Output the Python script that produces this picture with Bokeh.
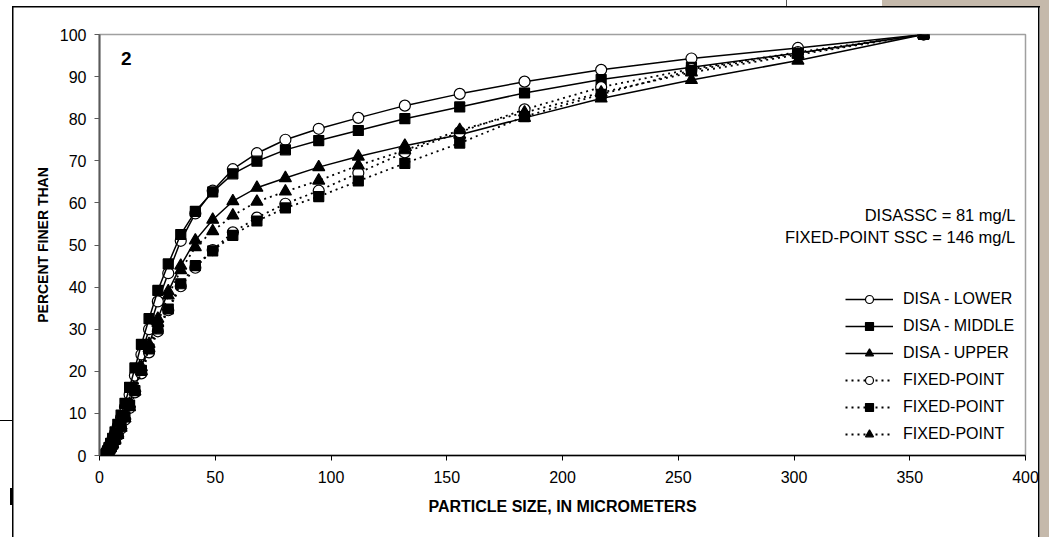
from bokeh.plotting import figure
from bokeh.models import Range1d, Legend, LegendItem, Label, FixedTicker, GlobalInlineStyleSheet
from bokeh.embed import file_html
from bokeh.resources import INLINE

# ---- data ----
sizes = [2.5, 2.93, 3.46, 4.08, 4.81, 5.68, 6.7, 7.91, 9.33, 11.0, 13.0, 15.3, 18.1, 21.4, 25.2,
         29.7, 35.1, 41.4, 48.9, 57.6, 68.0, 80.3, 94.7, 111.8, 131.9, 155.6, 183.6, 216.7,
         255.7, 301.7, 356.0]

disa_lower = [0.3, 0.8, 1.4, 2.1, 3.0, 4.0, 5.3, 7.0, 9.0, 11.5, 14.5, 19.0, 24.0, 30.0, 36.6,
              43.3, 51.0, 57.5, 62.9, 68.0, 71.8, 75.0, 77.6, 80.2, 83.1, 85.9, 88.8, 91.6,
              94.3, 96.8, 100.0]
disa_middle = [0.1, 0.5, 1.1, 1.9, 2.9, 4.1, 5.6, 7.4, 9.6, 12.4, 16.2, 20.8, 26.4, 32.5, 39.2,
               45.5, 52.5, 58.0, 62.6, 66.9, 69.9, 72.6, 74.8, 77.2, 80.0, 82.8, 86.1, 89.3,
               92.2, 95.6, 100.0]
disa_upper = [0.1, 0.3, 0.7, 1.2, 1.9, 2.8, 3.9, 5.3, 7.1, 9.4, 12.3, 16.0, 21.0, 26.5, 32.5,
              39.0, 45.1, 51.1, 56.0, 60.4, 63.6, 65.9, 68.5, 71.0, 73.6, 76.2, 80.2, 84.8,
              89.2, 93.8, 100.0]
fixed_circle = [0.1, 0.3, 0.6, 1.1, 1.7, 2.5, 3.5, 4.8, 6.4, 8.5, 11.3, 15.0, 19.5, 24.5, 29.5,
                34.5, 40.2, 44.6, 48.8, 53.0, 56.5, 59.8, 62.9, 67.1, 72.0, 76.8, 82.2, 87.5,
                91.8, 95.8, 100.0]
fixed_square = [0.1, 0.3, 0.7, 1.2, 1.9, 2.7, 3.8, 5.2, 7.0, 9.2, 12.0, 15.4, 20.2, 25.3, 30.1,
                34.8, 40.8, 45.1, 48.6, 52.3, 55.7, 58.8, 61.5, 65.2, 69.4, 74.2, 80.5, 85.8,
                91.5, 95.5, 100.0]
fixed_triangle = [0.2, 0.4, 0.7, 1.2, 1.8, 2.6, 3.6, 4.9, 6.6, 8.8, 11.5, 15.2, 20.0, 25.5, 31.5,
                  38.0, 44.0, 49.5, 53.3, 57.0, 60.3, 62.7, 65.3, 68.9, 72.5, 77.3, 81.5, 86.2,
                  91.0, 95.2, 100.0]

x_ticks = [0, 50, 100, 150, 200, 250, 300, 350, 400]
y_ticks = [0, 10, 20, 30, 40, 50, 60, 70, 80, 90, 100]
labels = ["DISA - LOWER", "DISA - MIDDLE", "DISA - UPPER", "FIXED-POINT", "FIXED-POINT", "FIXED-POINT"]
note_lines = ["DISASSC = 81 mg/L", "FIXED-POINT SSC = 146 mg/L"]
panel_label = "2"

FONT = "Liberation Sans"
TAN = "#c5b9ab"

# page surroundings of the scanned figure (outer frame, tan margin)
page_css = f"""
html, body {{ margin: 0; padding: 0; }}
body {{
  background:
    linear-gradient(#000,#000) 12px 6px / 1.5px 600px no-repeat,
    linear-gradient(#000,#000) 12px 6px / 1028px 1.5px no-repeat,
    linear-gradient(#000,#000) 1038px 6px / 1.5px 600px no-repeat,
    linear-gradient(#000,#000) 0px 420px / 12px 1px no-repeat,
    linear-gradient(#000,#000) 10px 488px / 2.5px 17px no-repeat,
    linear-gradient(#555,#555) 786px 0px / 1px 6px no-repeat,
    linear-gradient({TAN},{TAN}) 882px 0px / 167px 6px no-repeat,
    linear-gradient({TAN},{TAN}) 1040px 0px / 9px 600px no-repeat,
    #ffffff;
}}
"""

p = figure(width=1049, height=537, output_backend="svg", toolbar_location=None,
           x_range=Range1d(0, 400), y_range=Range1d(0, 100),
           min_border_left=99, min_border_right=24, min_border_top=34, min_border_bottom=82)
p.stylesheets = [GlobalInlineStyleSheet(css=page_css)]
p.background_fill_color = "white"
p.border_fill_alpha = 0
p.outline_line_color = "#a0a0a0"
p.outline_line_width = 1.5
p.xgrid.visible = False
p.ygrid.visible = False

for ax in (p.xaxis[0], p.yaxis[0]):
    ax.minor_tick_line_color = None
    ax.major_tick_in = 0
    ax.major_tick_out = 5
    ax.major_label_text_font = FONT
    ax.major_label_text_font_size = "16px"
    ax.major_label_text_color = "black"
    ax.axis_label_text_font = FONT
    ax.axis_label_text_font_style = "bold"
    ax.axis_label_text_color = "black"

p.xaxis.axis_label_text_font_size = "16px"
p.yaxis.axis_label_text_font_size = "14px"
p.xaxis.ticker = FixedTicker(ticks=x_ticks)
p.yaxis.ticker = FixedTicker(ticks=y_ticks)
p.xaxis.axis_label = "PARTICLE SIZE, IN MICROMETERS"
p.yaxis.axis_label = "PERCENT FINER THAN"
p.xaxis.axis_line_color = "black"
p.xaxis.axis_line_width = 1.5
p.xaxis.major_tick_line_color = "black"
p.yaxis.axis_line_color = "#5a5a5a"
p.yaxis.axis_line_width = 2
p.yaxis.major_tick_line_color = "#5a5a5a"
p.xaxis.major_label_standoff = 10
p.yaxis.major_label_standoff = 8
p.xaxis.axis_label_standoff = 12
p.yaxis.axis_label_standoff = 6

series = [
    (disa_lower, "circle", "white", 11, None),
    (disa_middle, "square", "black", 10, None),
    (disa_upper, "triangle", "black", 12, None),
    (fixed_circle, "circle", "white", 11, "2 4"),
    (fixed_square, "square", "black", 10, "2 4"),
    (fixed_triangle, "triangle", "black", 12, "2 4"),
]

items = []
for (ys, marker, fill, size, dash), lab in zip(series, labels):
    if dash is None:
        lr = p.line(sizes, ys, line_color="black", line_width=1.5)
    else:
        lr = p.line(sizes, ys, line_color="black", line_width=1.8, line_dash=dash)
    sr = p.scatter(sizes, ys, marker=marker, size=size, fill_color=fill,
                   line_color="black", line_width=1.2)
    items.append(LegendItem(label=lab, renderers=[lr, sr]))

legend = Legend(items=items, location=(746, 11), orientation="vertical",
                border_line_color=None, background_fill_alpha=0,
                padding=0, margin=0, spacing=7, glyph_width=48, glyph_height=20,
                label_height=20, label_standoff=10,
                label_text_font=FONT, label_text_font_size="16px", label_text_color="black")
p.add_layout(legend)

p.add_layout(Label(x=395.7, y=57.2, text=note_lines[0], text_align="right", text_baseline="middle",
                   text_font=FONT, text_font_size="16.5px", text_color="black"))
p.add_layout(Label(x=395.7, y=52.0, text=note_lines[1], text_align="right", text_baseline="middle",
                   text_font=FONT, text_font_size="16.5px", text_color="black"))
p.add_layout(Label(x=9.3, y=94.2, text=panel_label, text_align="left", text_baseline="middle",
                   text_font=FONT, text_font_size="19px", text_font_style="bold", text_color="black"))

open("out.html", "w").write(file_html(p, INLINE))
